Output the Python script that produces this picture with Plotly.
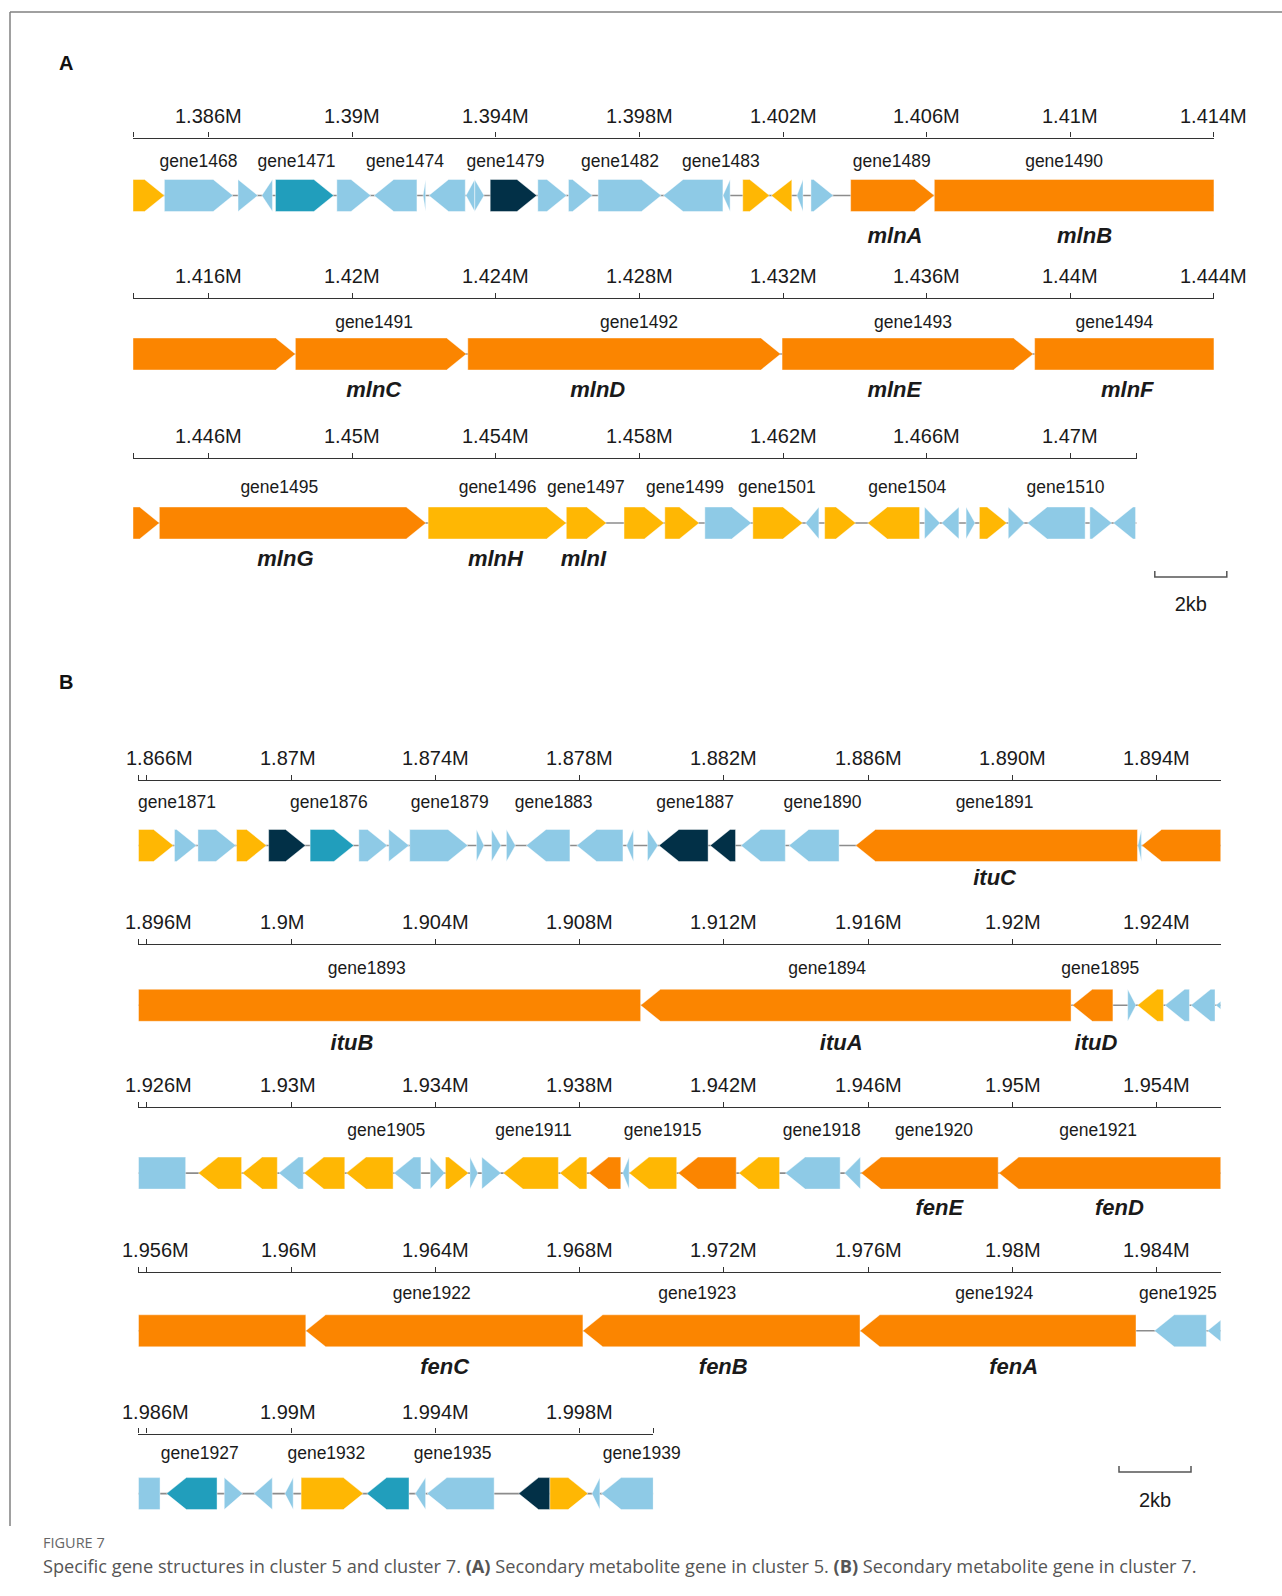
import plotly.graph_objects as go

W, H = 1282, 1596
FONT = "Liberation Sans, Arial, sans-serif"
HEAD_KB = 0.55             # arrow-head length
HALF_H = 16                # half height of a gene arrow (px)
TEXT_DY = 2                # vertical nudge for text-mode traces

COLORS = {"lb": "#8ECAE6", "teal": "#219EBC", "navy": "#023047",
          "amber": "#FFB703", "orange": "#FB8500"}

# ---------------- cluster 5 (panel A), positions in kb ----------------
A_START = [1383.894, 1384.768, 1386.819, 1387.482, 1387.864, 1389.572, 1390.607, 1391.974,
           1392.135, 1393.170, 1393.411, 1393.844, 1395.170, 1396.024, 1396.849, 1398.668,
           1400.326, 1400.879, 1401.673, 1402.386, 1402.778, 1403.884, 1406.215, 1418.417,
           1423.220, 1431.974, 1439.009, 1444.628, 1452.115, 1455.964, 1457.572, 1458.708,
           1459.823, 1461.160, 1462.627, 1463.160, 1464.356, 1465.944, 1466.416, 1467.100,
           1467.471, 1468.275, 1468.808, 1470.547, 1471.200]
A_END = [1384.768, 1386.678, 1387.371, 1387.778, 1389.482, 1390.517, 1391.803, 1392.045,
         1393.150, 1393.411, 1393.673, 1395.140, 1395.974, 1396.688, 1398.607, 1400.326,
         1400.527, 1401.622, 1402.245, 1402.557, 1403.401, 1406.215, 1418.417, 1423.180,
         1431.934, 1438.969, 1444.628, 1452.055, 1455.964, 1457.080, 1458.688, 1459.663,
         1461.120, 1462.547, 1462.999, 1464.024, 1465.803, 1466.376, 1466.899, 1467.351,
         1468.235, 1468.728, 1470.416, 1471.160, 1471.820]
A_STRAND = [1, 1, 1, -1, 1, 1, -1, -1, -1, -1, 1, 1, 1, 1, 1, -1, -1, 1, -1, -1, 1, 1, 1,
            1, 1, 1, 1, 1, 1, 1, 1, 1, 1, 1, -1, 1, -1, 1, -1, 1, 1, 1, -1, 1, -1]
A_CLASS = ["amber", "lb", "lb", "lb", "teal", "lb", "lb", "lb", "lb", "lb", "lb", "navy",
           "lb", "lb", "lb", "lb", "lb", "amber", "amber", "lb", "lb", "orange", "orange",
           "orange", "orange", "orange", "orange", "orange", "amber", "amber", "amber",
           "amber", "lb", "amber", "lb", "amber", "amber", "lb", "lb", "lb", "amber", "lb",
           "lb", "lb", "lb"]
A_ROW_START = [1383.894, 1413.894, 1443.894]
A_REGION_END = 1471.85
A_TICKS = [["1.386M", "1.39M", "1.394M", "1.398M", "1.402M", "1.406M", "1.41M", "1.414M"],
           ["1.416M", "1.42M", "1.424M", "1.428M", "1.432M", "1.436M", "1.44M", "1.444M"],
           ["1.446M", "1.45M", "1.454M", "1.458M", "1.462M", "1.466M", "1.47M"]]
A_LABELS = ["gene1468", "gene1471", "gene1474", "gene1479", "gene1482", "gene1483", "gene1489",
            "gene1490", "gene1491", "gene1492", "gene1493", "gene1494", "gene1495", "gene1496",
            "gene1497", "gene1499", "gene1501", "gene1504", "gene1510"]
A_LABEL_POS = [1385.72, 1388.45, 1391.47, 1394.27, 1397.46, 1400.27, 1405.03, 1409.83,
               1420.61, 1427.99, 1435.62, 1441.23, 1447.97, 1454.05, 1456.51, 1459.27,
               1461.83, 1465.46, 1469.87]
A_NAMES = ["mlnA", "mlnB", "mlnC", "mlnD", "mlnE", "mlnF", "mlnG", "mlnH", "mlnI"]
A_NAME_POS = [1405.12, 1410.40, 1420.60, 1426.84, 1435.10, 1441.59, 1448.14, 1453.99, 1456.44]

# ---------------- cluster 7 (panel B), positions in kb ----------------
B_START = [1865.77, 1866.77, 1867.42, 1868.49, 1869.38, 1870.53, 1871.88, 1872.71, 1873.29,
           1875.14, 1875.56, 1875.97, 1876.52, 1877.92, 1879.30, 1879.88, 1880.20, 1881.62,
           1882.47, 1883.80, 1885.65, 1893.47, 1893.58, 1909.69, 1921.66, 1923.19, 1923.46,
           1924.22, 1924.94, 1925.63, 1927.43, 1928.65, 1929.66, 1930.36, 1931.53, 1932.85,
           1933.86, 1934.28, 1934.96, 1935.29, 1935.88, 1937.45, 1938.25, 1939.19, 1939.37,
           1940.73, 1942.41, 1943.70, 1945.34, 1945.80, 1949.62, 1960.41, 1968.09, 1975.77,
           1983.93, 1985.40, 1986.55, 1988.15, 1988.97, 1989.83, 1990.28, 1992.10, 1993.44,
           1993.77, 1996.31, 1997.17, 1998.34, 1998.60]
B_END = [1866.74, 1867.38, 1868.47, 1869.32, 1870.40, 1871.74, 1872.67, 1873.27, 1874.90,
         1875.35, 1875.82, 1876.22, 1877.73, 1879.20, 1879.49, 1880.17, 1881.56, 1882.32,
         1883.70, 1885.19, 1893.46, 1893.57, 1909.69, 1921.62, 1922.78, 1923.42, 1924.18,
         1924.90, 1925.61, 1927.08, 1928.63, 1929.62, 1930.34, 1931.49, 1932.83, 1933.60,
         1934.26, 1934.92, 1935.18, 1935.82, 1937.41, 1938.20, 1939.14, 1939.37, 1940.69,
         1942.34, 1943.54, 1945.22, 1945.78, 1949.60, 1960.41, 1968.09, 1975.77, 1983.42,
         1985.37, 1986.37, 1987.95, 1988.66, 1989.48, 1990.06, 1992.00, 1993.27, 1993.73,
         1995.63, 1997.17, 1998.23, 1998.56, 2000.04]
B_STRAND = [1, 1, 1, 1, 1, 1, 1, 1, 1, 1, 1, 1, -1, -1, -1, 1, -1, -1, -1, -1, -1, -1, -1,
            -1, -1, 1, -1, -1, -1, -1, -1, -1, -1, -1, -1, -1, 1, 1, 1, 1, -1, -1, -1, -1,
            -1, -1, -1, -1, -1, -1, -1, -1, -1, -1, -1, -1, -1, 1, -1, -1, 1, -1, -1, -1,
            -1, 1, -1, -1]
B_CLASS = ["amber", "lb", "lb", "amber", "navy", "teal", "lb", "lb", "lb", "lb", "lb", "lb",
           "lb", "lb", "lb", "lb", "navy", "navy", "lb", "lb", "orange", "lb", "orange",
           "orange", "orange", "lb", "amber", "lb", "lb", "lb", "amber", "amber", "lb",
           "amber", "amber", "lb", "lb", "amber", "lb", "lb", "amber", "amber", "orange",
           "lb", "amber", "orange", "amber", "lb", "lb", "orange", "orange", "orange",
           "orange", "orange", "lb", "lb", "teal", "lb", "lb", "lb", "amber", "teal", "lb",
           "lb", "navy", "amber", "lb", "lb"]
B_ROW_START = [1865.77, 1895.77, 1925.77, 1955.77, 1985.77]
B_REGION_END = 2000.04
B_TICKS = [["1.866M", "1.87M", "1.874M", "1.878M", "1.882M", "1.886M", "1.890M", "1.894M"],
           ["1.896M", "1.9M", "1.904M", "1.908M", "1.912M", "1.916M", "1.92M", "1.924M"],
           ["1.926M", "1.93M", "1.934M", "1.938M", "1.942M", "1.946M", "1.95M", "1.954M"],
           ["1.956M", "1.96M", "1.964M", "1.968M", "1.972M", "1.976M", "1.98M", "1.984M"],
           ["1.986M", "1.99M", "1.994M", "1.998M"]]
B_LABELS = ["gene1871", "gene1876", "gene1879", "gene1883", "gene1887", "gene1890", "gene1891",
            "gene1893", "gene1894", "gene1895", "gene1905", "gene1911", "gene1915", "gene1918",
            "gene1920", "gene1921", "gene1922", "gene1923", "gene1924", "gene1925", "gene1927",
            "gene1932", "gene1935", "gene1939"]
B_LABEL_POS = [1866.84, 1871.05, 1874.40, 1877.28, 1881.20, 1884.73, 1889.50, 1902.10,
               1914.86, 1922.43, 1932.64, 1936.72, 1940.30, 1944.71, 1947.82, 1952.37,
               1963.90, 1971.26, 1979.49, 1984.58, 1987.47, 1990.98, 1994.48, 1999.72]
B_NAMES = ["ituC", "ituB", "ituA", "ituD", "fenE", "fenD", "fenC", "fenB", "fenA"]
B_NAME_POS = [1889.50, 1901.69, 1915.25, 1922.31, 1947.97, 1952.96, 1964.26, 1971.98, 1980.03]

# ---------------- page layout of the track rows (px from top) ----------------
# (axis line, gene label, arrow centre, gene name)
A_ROW_Y = [(137.5, 161.0, 195.5, 235.0), (298.0, 321.5, 354.0, 389.7), (457.9, 486.3, 523.0, 558.6)]
B_ROW_Y = [(780.4, 802.0, 845.5, 877.0), (944.2, 967.6, 1005.3, 1042.9),
           (1107.0, 1129.4, 1173.1, 1207.7), (1271.8, 1292.2, 1330.8, 1366.4),
           (1433.6, 1452.9, 1493.6, None)]
TICKLABEL_DY = 22
# horizontal nudges (px) of a few coordinate labels at the left end of a row
TICKLABEL_NUDGE = {"1.866M": 13, "1.896M": 12, "1.926M": 12, "1.956M": 9, "1.986M": 9,
                   "1.87M": -3, "1.9M": -9, "1.93M": -3, "1.96M": -2, "1.99M": -3}

PANELS = [
    dict(start=A_START, end=A_END, strand=A_STRAND, cls=A_CLASS, rows=A_ROW_START,
         region_end=A_REGION_END, ticks=A_TICKS, labels=A_LABELS, label_pos=A_LABEL_POS,
         names=A_NAMES, name_pos=A_NAME_POS, row_y=A_ROW_Y, x0=133.0, px_per_kb=35.9,
         row_kb=30.11),
    dict(start=B_START, end=B_END, strand=B_STRAND, cls=B_CLASS, rows=B_ROW_START,
         region_end=B_REGION_END, ticks=B_TICKS, labels=B_LABELS, label_pos=B_LABEL_POS,
         names=B_NAMES, name_pos=B_NAME_POS, row_y=B_ROW_Y, x0=138.4, px_per_kb=36.08,
         row_kb=30.0),
]


def arrow_outline(s, e, strand, lo, hi, yc):
    """Pentagon arrow for gene [s, e] clipped to the row window [lo, hi].
    A piece that does not hold the arrow tip is drawn as a plain block."""
    a, b = max(s, lo), min(e, hi)
    if a >= b:
        return None
    hl = min(HEAD_KB, e - s)
    if strand > 0:
        knee = e - hl
        tip_here = e <= hi
        half = (lambda x: HALF_H if x <= knee else HALF_H * (e - x) / hl) if tip_here else (lambda x: HALF_H)
    else:
        knee = s + hl
        tip_here = s >= lo
        half = (lambda x: HALF_H if x >= knee else HALF_H * (x - s) / hl) if tip_here else (lambda x: HALF_H)
    xs = [a] + ([knee] if (tip_here and a < knee < b) else []) + [b]
    top = [(x, yc - half(x)) for x in xs]
    bot = [(x, yc + half(x)) for x in reversed(xs)]
    pts = top + bot + [top[0]]
    return [p[0] for p in pts], [p[1] for p in pts]


fig = go.Figure()
layout_axes = {}
annotations = []
axis_idx = 0

for panel in PANELS:
    ppk = panel["px_per_kb"]
    for r, (row_start, (y_axis, y_lab, y_arr, y_name)) in enumerate(zip(panel["rows"], panel["row_y"])):
        axis_idx += 1
        xname = "x" if axis_idx == 1 else f"x{axis_idx}"
        lname = "xaxis" if axis_idx == 1 else f"xaxis{axis_idx}"
        last = r == len(panel["rows"]) - 1
        row_end = min(row_start + panel["row_kb"], panel["region_end"])
        dom0 = panel["x0"] / W
        dom1 = (panel["x0"] + (row_end - row_start) * ppk) / W

        ticktext = panel["ticks"][r]
        tickvals = [float(t[:-1]) * 1000 for t in ticktext]
        tv = [row_start] + tickvals + ([row_end] if last else [])

        layout_axes[lname] = dict(
            domain=[dom0, dom1], range=[row_start, row_end], anchor="free",
            position=1 - y_axis / H, side="top", showline=True, linecolor="#333",
            linewidth=1.4, ticks="outside", ticklen=5, tickwidth=1.3, tickcolor="#333",
            tickvals=tv, showticklabels=False, showgrid=False, zeroline=False,
            fixedrange=True, automargin=False,
        )
        for val, txt in zip(tickvals, ticktext):
            annotations.append(dict(text=txt, x=val, xref=xname, y=y_axis - TICKLABEL_DY, yref="y",
                                    xshift=TICKLABEL_NUDGE.get(txt, 0), showarrow=False,
                                    xanchor="center", yanchor="middle",
                                    font=dict(family=FONT, size=20, color="#1a1a1a")))

        # backbone
        fig.add_trace(go.Scatter(x=[row_start, row_end], y=[y_arr, y_arr], mode="lines",
                                 line=dict(color="#8c8c8c", width=1.6), xaxis=xname, yaxis="y",
                                 hoverinfo="skip", showlegend=False))

        # genes grouped by colour class
        groups = {}
        for s, e, st, c in zip(panel["start"], panel["end"], panel["strand"], panel["cls"]):
            poly = arrow_outline(s, e, st, row_start, row_end, y_arr)
            if poly is None:
                continue
            gx, gy = groups.setdefault(c, ([], []))
            gx.extend(poly[0] + [None])
            gy.extend(poly[1] + [None])
        for c, (gx, gy) in groups.items():
            fig.add_trace(go.Scatter(x=gx, y=gy, mode="lines", fill="toself",
                                     fillcolor=COLORS[c],
                                     line=dict(color="rgba(255,255,255,0.7)", width=0.6),
                                     xaxis=xname, yaxis="y", hoverinfo="skip", showlegend=False))

        # locus tags above the arrows
        in_row = lambda p: row_start <= p < row_start + panel["row_kb"]
        lx = [p for p in panel["label_pos"] if in_row(p)]
        lt = [t for t, p in zip(panel["labels"], panel["label_pos"]) if in_row(p)]
        if lx:
            fig.add_trace(go.Scatter(x=lx, y=[y_lab + TEXT_DY] * len(lx), text=lt, mode="text",
                                     textfont=dict(family=FONT, size=17.5, color="#1a1a1a"),
                                     cliponaxis=False, xaxis=xname, yaxis="y",
                                     hoverinfo="skip", showlegend=False))
        # gene names below the arrows
        nx = [p for p in panel["name_pos"] if in_row(p)]
        nt = [f"<b><i>{t}</i></b>" for t, p in zip(panel["names"], panel["name_pos"]) if in_row(p)]
        if nx and y_name is not None:
            fig.add_trace(go.Scatter(x=nx, y=[y_name + TEXT_DY] * len(nx), text=nt, mode="text",
                                     textfont=dict(family=FONT, size=22, color="#1a1a1a"),
                                     cliponaxis=False, xaxis=xname, yaxis="y",
                                     hoverinfo="skip", showlegend=False))

# scale bars (2 kb) on a page-wide kb axis
SCALE_KB = 2
SCALE_PX_PER_KB = 36.0
scale_axis = f"x{axis_idx + 1}"
layout_axes[f"xaxis{axis_idx + 1}"] = dict(domain=[0, 1], range=[0, W / SCALE_PX_PER_KB], anchor="y",
                                          visible=False, fixedrange=True)
for x_left, y_bar, y_txt in [(1154.8 / SCALE_PX_PER_KB, 577.0, 603.5),
                             (1119.0 / SCALE_PX_PER_KB, 1472.0, 1500.0)]:
    fig.add_trace(go.Scatter(x=[x_left, x_left, x_left + SCALE_KB, x_left + SCALE_KB],
                             y=[y_bar - 6, y_bar, y_bar, y_bar - 6], mode="lines",
                             line=dict(color="#555", width=1.5), xaxis=scale_axis, yaxis="y",
                             hoverinfo="skip", showlegend=False))
    fig.add_trace(go.Scatter(x=[x_left + SCALE_KB / 2], y=[y_txt + TEXT_DY], text=["2kb"], mode="text",
                             textfont=dict(family=FONT, size=20, color="#1a1a1a"),
                             cliponaxis=False, xaxis=scale_axis, yaxis="y",
                             hoverinfo="skip", showlegend=False))

annotations += [
    dict(text="<b>A</b>", x=66 / W, y=63, xref="paper", yref="y", xanchor="center",
         showarrow=False, font=dict(family=FONT, size=20, color="#111")),
    dict(text="<b>B</b>", x=66 / W, y=682, xref="paper", yref="y", xanchor="center",
         showarrow=False, font=dict(family=FONT, size=20, color="#111")),
    dict(text="FIGURE 7", x=41 / W, y=1542.5, xref="paper", yref="y", xanchor="left",
         showarrow=False, font=dict(family="Open Sans, sans-serif", size=14.5, color="#666")),
    dict(text="Specific gene structures in cluster 5 and cluster 7. <b>(A)</b> Secondary metabolite "
              "gene in cluster 5. <b>(B)</b> Secondary metabolite gene in cluster 7.",
         x=41 / W, y=1566, xref="paper", yref="y", xanchor="left", showarrow=False,
         font=dict(family="Open Sans, sans-serif", size=18.2, color="#555")),
]

shapes = [
    dict(type="line", xref="paper", yref="y", x0=10 / W, x1=1, y0=12, y1=12,
         line=dict(color="#808080", width=1.5)),
    dict(type="line", xref="paper", yref="y", x0=10 / W, x1=10 / W, y0=12, y1=1526,
         line=dict(color="#808080", width=1.5)),
]

fig.update_layout(
    width=W, height=H, margin=dict(l=0, r=0, t=0, b=0, autoexpand=False),
    paper_bgcolor="white", plot_bgcolor="rgba(0,0,0,0)",
    yaxis=dict(domain=[0, 1], range=[H, 0], visible=False, fixedrange=True),
    annotations=annotations, shapes=shapes, showlegend=False,
    **layout_axes,
)

fig.write_html("out.html")
